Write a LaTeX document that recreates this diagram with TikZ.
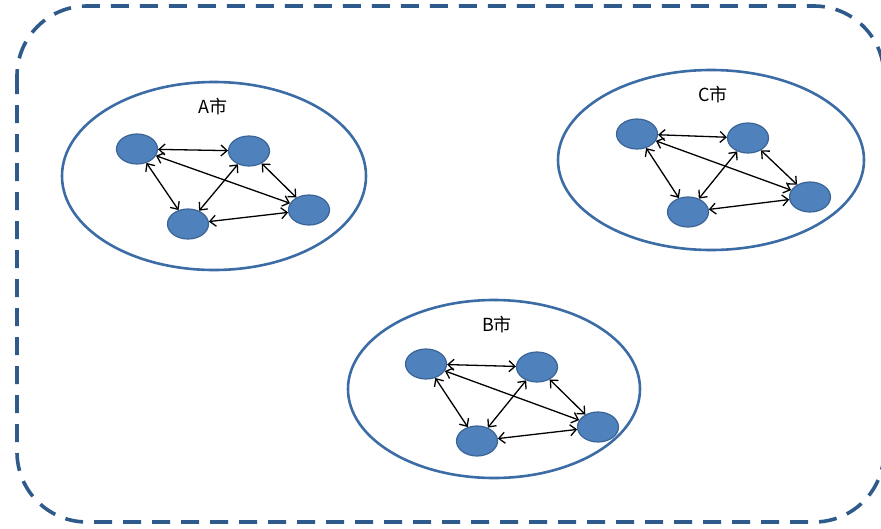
\documentclass[tikz,border=0pt]{standalone}
\usepackage{fontspec}
\newfontfamily\cjk{Noto Sans CJK SC}
\usetikzlibrary{arrows.meta,shapes.geometric}
\definecolor{nodefill}{HTML}{4F81BD}
\definecolor{nodeline}{HTML}{3A6496}
\definecolor{cityline}{HTML}{3C6CA6}
\definecolor{dashline}{HTML}{2F5A8C}
\begin{document}
\begin{tikzpicture}[x=1pt,y=-1pt,
  city/.style={ellipse, draw=cityline, line width=2.6pt, inner sep=0pt},
  pt/.style={ellipse, fill=nodefill, draw=nodeline, line width=1.2pt, minimum width=41pt, minimum height=30pt, inner sep=0pt},
  lbl/.style={font=\cjk\fontsize{18}{20}\selectfont, inner sep=0pt},
  link/.style={{Straight Barb[length=6pt,width=11pt]}-{Straight Barb[length=6pt,width=11pt]}, line width=1.3pt, black}
]
\useasboundingbox (0,0) rectangle (881,528);
\begin{scope}
\clip (0,0) rectangle (881,528);
\draw[dashline, line width=3.6pt, dash pattern=on 18pt off 11pt, rounded corners=70pt] (17,6) rectangle (884,522);
\end{scope}
% city ellipses
\node[city, minimum width=304pt, minimum height=188pt] (cA) at (214,176) {};
\node[city, minimum width=292pt, minimum height=178pt] (cB) at (494,389) {};
\node[city, minimum width=306pt, minimum height=180pt] (cC) at (711,160) {};
% labels
\node[lbl] (lA) at (213,107) {A市};
\node[lbl] (lB) at (497,325) {B市};
\node[lbl] (lC) at (713,95) {C市};
% A nodes
\node[pt] (a1) at (137,149) {};
\node[pt] (a2) at (249,151) {};
\node[pt] (a3) at (188,224) {};
\node[pt] (a4) at (309,210) {};
% B nodes
\node[pt] (b1) at (426,364) {};
\node[pt] (b2) at (537,367) {};
\node[pt] (b3) at (477,441) {};
\node[pt] (b4) at (598,427) {};
% C nodes
\node[pt] (c1) at (637,134) {};
\node[pt] (c2) at (748,138) {};
\node[pt] (c3) at (688,212) {};
\node[pt] (c4) at (810,197) {};
% links
\foreach \p in {a,b,c}{
  \draw[link] (\p1) -- (\p2);
  \draw[link] (\p1) -- (\p3);
  \draw[link] (\p1) -- (\p4);
  \draw[link] (\p2) -- (\p3);
  \draw[link] (\p2) -- (\p4);
  \draw[link] (\p3) -- (\p4);
}
\end{tikzpicture}
\end{document}
